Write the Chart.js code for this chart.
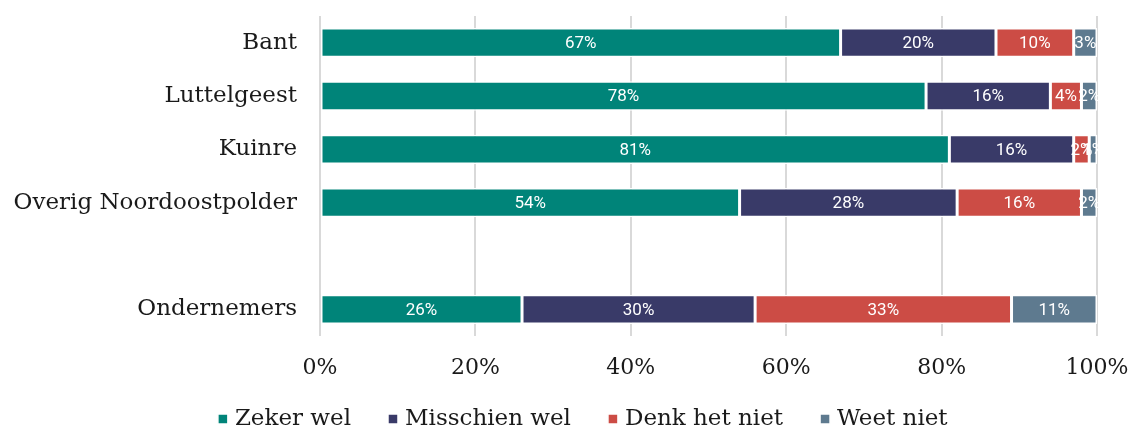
<!DOCTYPE html>
<html>
<head>
<meta charset="utf-8">
<script src="https://cdn.jsdelivr.net/npm/chart.js@4"></script>
<style>
html,body{margin:0;padding:0;background:#fff;}
#wrap{width:1132px;height:431px;position:relative;}
</style>
</head>
<body>
<div id="wrap"><canvas id="c" width="1132" height="431"></canvas></div>
<script>
const categories = ['Bant', 'Luttelgeest', 'Kuinre', 'Overig Noordoostpolder', '', 'Ondernemers'];
const zekerWel = [67, 78, 81, 54, null, 26];
const misschienWel = [20, 16, 16, 28, null, 30];
const denkHetNiet = [10, 4, 2, 16, null, 33];
const weetNiet = [3, 2, 1, 2, null, 11];
const seriesNames = ['Zeker wel', 'Misschien wel', 'Denk het niet', 'Weet niet'];
const seriesColors = ['#008479', '#393A68', '#CC4C45', '#5E7A8F'];
const xTicks = [0, 20, 40, 60, 80, 100];

const serif = "'DejaVu Serif', serif";

const labelPlugin = {
  id: 'segLabels',
  afterDatasetsDraw(chart) {
    const ctx = chart.ctx;
    ctx.save();
    ctx.font = "17px Roboto";
    ctx.fillStyle = '#ffffff';
    ctx.textAlign = 'center';
    ctx.textBaseline = 'middle';
    chart.data.datasets.forEach((ds, di) => {
      const meta = chart.getDatasetMeta(di);
      meta.data.forEach((el, i) => {
        const v = ds.data[i];
        if (v === null || v === undefined) return;
        const x = (el.x + el.base) / 2;
        ctx.fillText(v + '%', x, el.y + 1);
      });
    });
    ctx.restore();
  }
};

const layoutPlugin = {
  id: 'placeBoxes',
  afterLayout(chart) {
    const xs = chart.scales.x;
    xs.bottom = chart.height;
    const lg = chart.legend;
    if (lg) {
      const h = lg.height;
      lg.left += 36.5;
      lg.right += 36.5;
      lg.top = 366;
      lg.bottom = 366 + h;
    }
  }
};

const seriesData = [zekerWel, misschienWel, denkHetNiet, weetNiet];

new Chart(document.getElementById('c'), {
  type: 'bar',
  data: {
    labels: categories,
    datasets: seriesNames.map((n, k) => ({
      label: n,
      data: seriesData[k],
      backgroundColor: seriesColors[k],
      borderColor: '#ffffff',
      borderWidth: 1.5,
      borderSkipped: false,
      barPercentage: 0.55,
      categoryPercentage: 1.0
    }))
  },
  options: {
    indexAxis: 'y',
    responsive: false,
    animation: false,
    devicePixelRatio: 1,
    layout: { padding: { top: 16, left: 0, right: 35, bottom: 0 } },
    scales: {
      x: {
        stacked: true,
        min: 0,
        max: 100,
        afterBuildTicks(scale) { scale.ticks = xTicks.map(v => ({ value: v })); },
        afterFit(scale) { scale.height = 20.5; scale.paddingLeft = 0; scale.paddingRight = 0; },
        border: { display: false },
        grid: { color: '#d9d9d9', lineWidth: 2, drawTicks: false },
        ticks: {
          padding: 19,
          color: '#1a1a1a',
          font: { family: serif, size: 22 },
          callback: v => v + '%'
        }
      },
      y: {
        stacked: true,
        afterFit(scale) { scale.width = 320; scale.paddingTop = 0; scale.paddingBottom = 0; },
        border: { display: false },
        grid: { display: false, drawTicks: false },
        ticks: {
          padding: 23,
          color: '#1a1a1a',
          font: { family: serif, size: 23 }
        }
      }
    },
    plugins: {
      tooltip: { enabled: false },
      legend: {
        position: 'bottom',
        labels: {
          usePointStyle: true,
          pointStyle: 'rect',
          boxWidth: 1,
          boxHeight: 10,
          padding: 41.5,
          color: '#1a1a1a',
          font: { family: serif, size: 23 }
        }
      }
    }
  },
  plugins: [labelPlugin, layoutPlugin]
});
</script>
</body>
</html>
